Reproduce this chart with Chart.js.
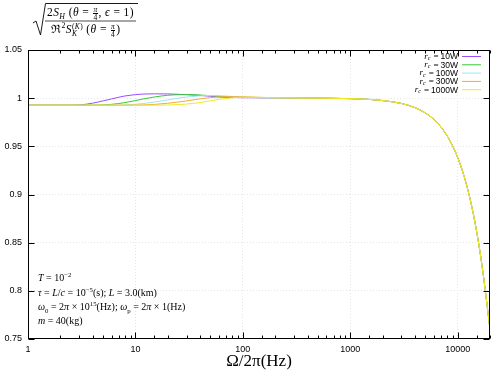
<!DOCTYPE html>
<html>
<head>
<meta charset="utf-8">
<script src="https://cdn.jsdelivr.net/npm/chart.js@4.4.1/dist/chart.umd.min.js"></script>
<style>
  body { margin: 0; background: #fff; }
  #wrap { position: relative; width: 498px; height: 376px; }
  .m { position: absolute; font-family: "Liberation Serif", "DejaVu Serif", serif; color: #000; white-space: nowrap; }
  .m sup, .m sub { font-size: 0.68em; line-height: 0; }
  .fr { display: inline-block; vertical-align: middle; text-align: center; font-size: 7.5px; line-height: 7px; margin: 0 1px; }
  .fr span { display: block; }
  .fr span:first-child { border-bottom: 0.6px solid #000; }
  .ss { display: inline-block; vertical-align: middle; font-size: 7.5px; line-height: 7.5px; }
  .ss span { display: block; }
  #notes div { position: absolute; left: 0; }
</style>
</head>
<body>
<div id="wrap">
  <canvas id="myChart" width="498" height="376"></canvas>

  <!-- formula on top -->
  <svg style="position:absolute;left:0;top:0" width="145" height="40">
    <path d="M33 23 L36 21 L40.5 35 L45.5 3.5 L138 3.5" fill="none" stroke="#000" stroke-width="0.9"/>
    <line x1="45" y1="21" x2="136" y2="21" stroke="#000" stroke-width="0.7"/>
  </svg>
  <div class="m" style="left:47px;top:6px;font-size:11.5px;letter-spacing:0.4px">2<i>S</i><sub><i>H</i></sub> (<i>θ</i> = <span class="fr"><span><i>π</i></span><span>4</span></span>, <i>ϵ</i> = 1)</div>
  <div class="m" style="left:51px;top:21px;font-size:11.5px;letter-spacing:0.4px">ℜ<sup>2</sup><i>S</i><span class="ss"><span>(<i>K</i>)</span><span><i>K</i></span></span> (<i>θ</i> = <span class="fr"><span><i>π</i></span><span>4</span></span>)</div>

  <!-- parameters -->
  <div id="notes" class="m" style="left:38px;top:0;font-size:10px">
    <div style="top:272px"><i>T</i> = 10<sup>−2</sup></div>
    <div style="top:287px"><i>τ</i> = <i>L</i>/<i>c</i> = 10<sup>−5</sup>(s); <i>L</i> = 3.0(km)</div>
    <div style="top:301px"><i>ω</i><sub>0</sub> = 2<i>π</i> × 10<sup>15</sup>(Hz); <i>ω</i><sub>p</sub> = 2<i>π</i> × 1(Hz)</div>
    <div style="top:315px"><i>m</i> = 40(kg)</div>
  </div>
</div>

<script>
// frequencies (Hz)
const freqs = [1, 2, 3, 4, 5, 6, 7, 8, 10, 12, 15, 20, 25, 30, 40, 50, 60, 80, 100, 150, 200, 300, 500, 700,
  1000, 1500, 2000, 3000, 4000, 5000, 6000, 7000, 8000, 9000, 10000, 11000, 12000, 13000, 14000,
  15000, 16000, 17000, 18000, 19000, 20000];

// low frequency part, one per laser power
const low10W = [0.9927, 0.9927, 0.9930, 0.9948, 0.9972, 0.9992, 1.0010, 1.0023, 1.0037, 1.0043, 1.0045, 1.0044,
  1.0040, 1.0036, 1.0028, 1.0020, 1.0012, 1.0007, 1.0005, 1.0004, 1.0004, 1.0003, 1.0001, 0.9998];
const low30W = [0.9927, 0.9927, 0.9927, 0.9927, 0.9930, 0.9936, 0.9944, 0.9954, 0.9975, 0.9993, 1.0012, 1.0030,
  1.0036, 1.0037, 1.0033, 1.0026, 1.0020, 1.0012, 1.0008, 1.0005, 1.0004, 1.0003, 1.0001, 0.9998];
const low100W = [0.9927, 0.9927, 0.9927, 0.9927, 0.9927, 0.9927, 0.9928, 0.9930, 0.9937, 0.9945, 0.9960, 0.9982,
  1.0000, 1.0012, 1.0024, 1.0028, 1.0026, 1.0018, 1.0012, 1.0006, 1.0004, 1.0003, 1.0001, 0.9998];
const low300W = [0.9927, 0.9927, 0.9927, 0.9927, 0.9927, 0.9927, 0.9927, 0.9927, 0.9928, 0.9930, 0.9935, 0.9947,
  0.9960, 0.9972, 0.9993, 1.0006, 1.0013, 1.0016, 1.0014, 1.0008, 1.0005, 1.0003, 1.0001, 0.9998];
const low1000W = [0.9927, 0.9927, 0.9927, 0.9927, 0.9927, 0.9927, 0.9927, 0.9927, 0.9927, 0.9927, 0.9927, 0.9929,
  0.9933, 0.9939, 0.9954, 0.9973, 0.9988, 1.0004, 1.0010, 1.0008, 1.0005, 1.0003, 1.0001, 0.9998];
// high frequency roll-off, same for all curves (1000 Hz .. 20000 Hz)
const tail = [0.9995, 0.9987, 0.9975, 0.9945, 0.9902, 0.9847, 0.9780, 0.9700, 0.9607, 0.9502, 0.9385,
  0.9256, 0.9115, 0.8962, 0.8797, 0.8620, 0.8432, 0.8232, 0.8020, 0.7805, 0.7600];

const powers = ["10W", "30W", "100W", "300W", "1000W"];
const series = [low10W, low30W, low100W, low300W, low1000W].map(a => a.concat(tail));
const colors = ["#9b4dff", "#35c935", "#9fe6ea", "#f2a93b", "#ecec1c"];
const yTicks = [0.75, 0.8, 0.85, 0.9, 0.95, 1, 1.05];

function isDecade(v) {
  let l = Math.log10(v);
  return Math.abs(l - Math.round(l)) < 1e-9;
}

const framePlugin = {
  id: "frame",
  afterDraw(chart) {
    const c = chart.ctx;
    const a = chart.chartArea;
    const L = Math.round(a.left) + 0.5, R = Math.round(a.right) - 0.5;
    const T = Math.round(a.top) + 0.5, B = Math.round(a.bottom) - 0.5;
    c.save();
    c.strokeStyle = "#000";
    c.lineWidth = 1;
    c.strokeRect(L, T, R - L, B - T);
    c.beginPath();
    // x ticks, bottom and top
    chart.scales.x.ticks.forEach(t => {
      let px = Math.round(chart.scales.x.getPixelForValue(t.value)) + 0.5;
      let len = isDecade(t.value) ? 6 : 3;
      c.moveTo(px, B); c.lineTo(px, B - len);
      c.moveTo(px, T); c.lineTo(px, T + len);
    });
    // y ticks, left and right
    yTicks.forEach(v => {
      let py = Math.round(chart.scales.y.getPixelForValue(v)) + 0.5;
      c.moveTo(L, py); c.lineTo(L + 6, py);
      c.moveTo(R, py); c.lineTo(R - 6, py);
    });
    c.stroke();

    // key, top right
    chart.data.datasets.forEach((ds, i) => {
      let y = 56.5 + i * 8.3;
      c.strokeStyle = ds.borderColor;
      c.beginPath();
      c.moveTo(462, y); c.lineTo(481, y);
      c.stroke();
      c.fillStyle = "#000";
      c.textBaseline = "middle";
      c.textAlign = "right";
      c.font = "8.5px 'Liberation Sans', Arial, sans-serif";
      c.fillText(ds.label, 458, y + 0.5);
      let w = c.measureText(ds.label).width;
      c.font = "9px 'Liberation Serif', serif";
      let x = 458 - w - 2;
      c.fillText("=", x, y + 0.5);
      x -= c.measureText("=").width + 3;
      c.font = "italic 6px 'Liberation Serif', serif";
      c.fillText("c", x, y + 2);
      x -= c.measureText("c").width;
      c.font = "italic 9px 'Liberation Serif', serif";
      c.fillText("r", x, y);
    });
    c.restore();
  }
};

const ctx = document.getElementById("myChart").getContext("2d");
const chart = new Chart(ctx, {
  type: "line",
  data: {
    datasets: powers.map((p, i) => ({
      label: p,
      data: freqs.map((f, j) => ({x: f, y: series[i][j]})),
      borderColor: colors[i],
      borderWidth: 1,
      pointRadius: 0,
      fill: false,
      cubicInterpolationMode: "monotone",
      order: 4 - i
    }))
  },
  options: {
    responsive: false,
    animation: false,
    layout: {padding: {top: 50, right: 8, left: 0, bottom: 0}},
    plugins: {legend: {display: false}, tooltip: {enabled: false}},
    scales: {
      x: {
        type: "logarithmic",
        min: 1,
        max: 20000,
        grid: {
          color: c => (c.tick && isDecade(c.tick.value) && c.tick.value > 1) ? "#e4e4e4" : "rgba(0,0,0,0)",
          drawTicks: false
        },
        border: {display: false, dash: [1, 2]},
        ticks: {
          autoSkip: false,
          maxRotation: 0,
          padding: 5,
          color: "#000",
          font: {family: "'Liberation Sans', Arial, sans-serif", size: 9},
          callback: v => isDecade(v) ? String(Math.round(v)) : ""
        },
        title: {
          display: true,
          text: "Ω/2π(Hz)",
          color: "#000",
          font: {family: "'Liberation Serif', serif", size: 17},
          padding: {top: 0, bottom: 4}
        },
        afterFit: s => { s.height = 37; }
      },
      y: {
        min: 0.75,
        max: 1.05,
        grid: {
          color: c => (c.tick && c.tick.value > 0.76 && c.tick.value < 1.04) ? "#e4e4e4" : "rgba(0,0,0,0)",
          drawTicks: false
        },
        border: {display: false, dash: [1, 2]},
        ticks: {
          stepSize: 0.05,
          padding: 6,
          color: "#000",
          font: {family: "'Liberation Sans', Arial, sans-serif", size: 9},
          callback: v => String(Number(v.toFixed(2)))
        },
        afterFit: s => { s.width = 28; }
      }
    }
  },
  plugins: [framePlugin]
});
</script>
</body>
</html>
